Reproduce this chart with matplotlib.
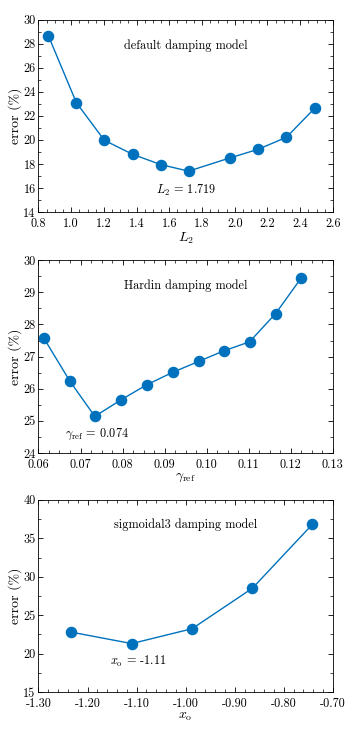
import numpy as np
import matplotlib
matplotlib.use('Agg')
import matplotlib.pyplot as plt
from matplotlib.ticker import MultipleLocator, FormatStrFormatter

# default damping model
L2 = [0.861, 1.032, 1.203, 1.376, 1.547, 1.718, 1.970, 2.143, 2.316, 2.489]
err_default = [28.67, 23.1, 19.97, 18.8, 17.95, 17.4, 18.5, 19.22, 20.22, 22.64]

# Hardin damping model
gamma_ref = [0.0613, 0.0675, 0.0734, 0.0797, 0.0857, 0.0919, 0.0981, 0.1041, 0.1102, 0.1164, 0.1225]
err_hardin = [27.57, 26.23, 25.14, 25.66, 26.12, 26.51, 26.85, 27.18, 27.46, 28.34, 29.45]

# sigmoidal3 damping model
x_o = [-1.234, -1.110, -0.987, -0.864, -0.742]
err_sigm = [22.8, 21.3, 23.23, 28.5, 36.8]

params = {
    'font.family': 'serif',
    'font.serif': ['cmr10', 'DejaVu Serif'],
    'mathtext.fontset': 'cm',
    'axes.formatter.use_mathtext': True,
    'font.size': 8.5,
    'axes.linewidth': 0.6,
    'xtick.direction': 'in',
    'ytick.direction': 'in',
    'xtick.top': True,
    'ytick.right': True,
    'xtick.major.size': 3.5,
    'ytick.major.size': 3.5,
    'xtick.minor.size': 2,
    'ytick.minor.size': 2,
    'xtick.major.width': 0.6,
    'ytick.major.width': 0.6,
    'xtick.minor.width': 0.5,
    'ytick.minor.width': 0.5,
}
matplotlib.rcParams.update(params)

blue = '#0072BD'
fs_tick = 8.8   # tick labels
fs_lab = 10.0   # axis labels
fs_txt = 8.8    # annotations

fig = plt.figure(figsize=(3.56, 7.36), dpi=100)

left, width, height = 0.108, 0.827, 0.261
bottoms = [0.712, 0.3845, 0.0598]

def style(ax, xlim, ylim, xmaj, xmin, ymaj, ymin, xfmt, yfmt):
    ax.set_xlim(*xlim); ax.set_ylim(*ylim)
    ax.xaxis.set_major_locator(MultipleLocator(xmaj))
    ax.xaxis.set_minor_locator(MultipleLocator(xmin))
    ax.yaxis.set_major_locator(MultipleLocator(ymaj))
    ax.yaxis.set_minor_locator(MultipleLocator(ymin))
    ax.xaxis.set_major_formatter(FormatStrFormatter(xfmt))
    ax.yaxis.set_major_formatter(FormatStrFormatter(yfmt))
    ax.tick_params(which='both', top=True, right=True, labelsize=fs_tick)
    ax.tick_params(axis='x', pad=4.5)
    ax.tick_params(axis='y', pad=2.0)
    ax.set_ylabel('error (%)', fontsize=fs_lab, labelpad=1)

# panel 1
ax1 = fig.add_axes([left, bottoms[0], width, height])
ax1.plot(L2, err_default, '-o', color=blue, lw=1.0, ms=7.3)
style(ax1, (0.8, 2.6), (14, 30), 0.2, 0.05, 2, 1, '%.1f', '%d')
ax1.set_xlabel('$L_2$', fontsize=fs_lab, labelpad=0)
ax1.text(0.5, 0.865, 'default damping model', transform=ax1.transAxes, ha='center', va='center', fontsize=fs_txt)
ax1.text(0.5, 0.111, '$L_2$ = 1.719', transform=ax1.transAxes, ha='center', va='center', fontsize=fs_txt)

# panel 2
ax2 = fig.add_axes([left, bottoms[1], width, height + 0.001])
ax2.plot(gamma_ref, err_hardin, '-o', color=blue, lw=1.0, ms=7.3)
style(ax2, (0.06, 0.13), (24, 30), 0.01, 0.0025, 1, 0.5, '%.2f', '%d')
ax2.set_xlabel(r'$\gamma_{\rm ref}$', fontsize=fs_lab, labelpad=0)
ax2.text(0.5, 0.867, 'Hardin damping model', transform=ax2.transAxes, ha='center', va='center', fontsize=fs_txt)
ax2.text(0.2, 0.097, r'$\gamma_{\rm ref}$ = 0.074', transform=ax2.transAxes, ha='center', va='center', fontsize=fs_txt)

# panel 3
ax3 = fig.add_axes([left, bottoms[2], width, height])
ax3.plot(x_o, err_sigm, '-o', color=blue, lw=1.0, ms=7.3)
style(ax3, (-1.30, -0.70), (15, 40), 0.1, 0.02, 5, 2.5, '%.2f', '%d')
ax3.set_xlabel('$x_{\\rm o}$', fontsize=fs_lab, labelpad=0)
ax3.text(0.5, 0.87, 'sigmoidal3 damping model', transform=ax3.transAxes, ha='center', va='center', fontsize=fs_txt)
ax3.text(0.338, 0.158, '$x_{\\rm o}$ = -1.11', transform=ax3.transAxes, ha='center', va='center', fontsize=fs_txt)

fig.savefig('out.png', dpi=100)
